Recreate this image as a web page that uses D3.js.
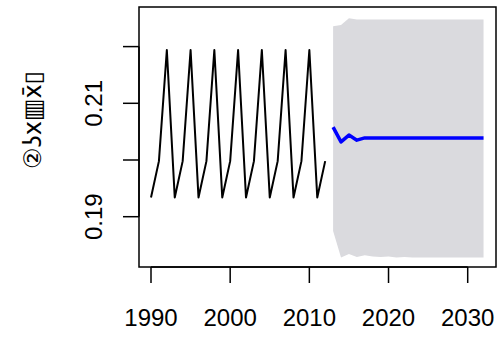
<!DOCTYPE html>
<html>
<head>
<meta charset="utf-8">
<script src="https://cdn.jsdelivr.net/npm/d3@7"></script>
<style>
  body { margin: 0; background: #fff; }
</style>
</head>
<body>
<script>
// observed series, 1990-2012
var years = d3.range(1990, 2013);
var values = [0.1934, 0.1998, 0.2194, 0.1934, 0.1998, 0.2194, 0.1934, 0.1998, 0.2194,
              0.1934, 0.1998, 0.2194, 0.1934, 0.1998, 0.2194, 0.1934, 0.1998, 0.2194,
              0.1934, 0.1998, 0.2194, 0.1934, 0.1998];

// forecast 2013-2032
var fcYears = d3.range(2013, 2033);
var fcMean = [0.2058, 0.2032, 0.2044, 0.2035, 0.2039, 0.2039, 0.2039, 0.2039, 0.2039, 0.2039,
              0.2039, 0.2039, 0.2039, 0.2039, 0.2039, 0.2039, 0.2039, 0.2039, 0.2039, 0.2039];
var fcUpper = [0.2236, 0.2238, 0.2250, 0.2248, 0.2248, 0.2248, 0.2248, 0.2248, 0.2248, 0.2248,
               0.2248, 0.2248, 0.2248, 0.2248, 0.2248, 0.2248, 0.2248, 0.2248, 0.2248, 0.2248];
var fcLower = [0.1875, 0.1828, 0.1834, 0.1829, 0.1832, 0.1830, 0.1829, 0.1830, 0.1828, 0.1829,
               0.1828, 0.1828, 0.1828, 0.1828, 0.1828, 0.1828, 0.1828, 0.1828, 0.1828, 0.1828];

var xTicks = [1990, 2000, 2010, 2020, 2030];
var yTicks = [0.19, 0.20, 0.21, 0.22];
var yLabels = {"0.19": "0.19", "0.21": "0.21"};
var yTitle = "②ʖx▥x̄▯";

var width = 499, height = 337;
var box = {left: 139, right: 496, top: 7, bottom: 267};
var font = "'Liberation Sans', Arial, Helvetica, sans-serif";

var x = d3.scaleLinear().domain([1990, 2030]).range([151, 467.7]);
var y = d3.scaleLinear().domain([0.19, 0.21]).range([216.7, 103.3]);

var svg = d3.select("body").append("svg")
    .attr("width", width)
    .attr("height", height);

// forecast interval
var band = fcYears.map(function(d, i) { return {yr: d, lo: fcLower[i], hi: fcUpper[i]}; });
svg.append("path")
    .datum(band)
    .attr("fill", "#dadade")
    .attr("d", d3.area()
        .x(function(d) { return x(d.yr); })
        .y0(function(d) { return y(d.lo); })
        .y1(function(d) { return y(d.hi); }));

// observed
svg.append("path")
    .datum(years)
    .attr("fill", "none")
    .attr("stroke", "#000")
    .attr("stroke-width", 2)
    .attr("stroke-linejoin", "round")
    .attr("d", d3.line()
        .x(function(d) { return x(d); })
        .y(function(d, i) { return y(values[i]); }));

// forecast mean
svg.append("path")
    .datum(fcYears)
    .attr("fill", "none")
    .attr("stroke", "#0000ff")
    .attr("stroke-width", 3.5)
    .attr("stroke-linejoin", "round")
    .attr("d", d3.line()
        .x(function(d) { return x(d); })
        .y(function(d, i) { return y(fcMean[i]); }));

// box
svg.append("rect")
    .attr("x", box.left).attr("y", box.top)
    .attr("width", box.right - box.left).attr("height", box.bottom - box.top)
    .attr("fill", "none").attr("stroke", "#000").attr("stroke-width", 1.5);

// x axis
var xa = svg.append("g").attr("transform", "translate(0," + box.bottom + ")");
xa.append("line")
    .attr("x1", x(1990)).attr("x2", x(2030))
    .attr("stroke", "#000").attr("stroke-width", 1.5);
xa.selectAll(".tk").data(xTicks).enter().append("line")
    .attr("x1", x).attr("x2", x)
    .attr("y1", 0).attr("y2", 16)
    .attr("stroke", "#000").attr("stroke-width", 1.5);
xa.selectAll(".lb").data(xTicks).enter().append("text")
    .attr("x", x).attr("y", 59)
    .attr("text-anchor", "middle")
    .attr("font-family", font)
    .attr("font-size", 24)
    .text(function(d) { return d; });

// y axis
var ya = svg.append("g").attr("transform", "translate(" + box.left + ",0)");
ya.append("line")
    .attr("y1", y(0.19)).attr("y2", y(0.22))
    .attr("stroke", "#000").attr("stroke-width", 1.5);
ya.selectAll(".tk").data(yTicks).enter().append("line")
    .attr("x1", -16).attr("x2", 0)
    .attr("y1", y).attr("y2", y)
    .attr("stroke", "#000").attr("stroke-width", 1.5);
ya.selectAll(".lb").data(yTicks.filter(function(d) { return yLabels[d.toFixed(2)]; })).enter().append("text")
    .attr("transform", function(d) { return "translate(-37," + y(d) + ") rotate(-90)"; })
    .attr("text-anchor", "middle")
    .attr("font-family", font)
    .attr("font-size", 24)
    .text(function(d) { return yLabels[d.toFixed(2)]; });

// y title
svg.append("text")
    .attr("transform", "translate(41,120) rotate(-90)")
    .attr("text-anchor", "middle")
    .attr("font-family", "'DejaVu Sans', sans-serif")
    .attr("font-size", 24)
    .text(yTitle);
</script>
</body>
</html>
